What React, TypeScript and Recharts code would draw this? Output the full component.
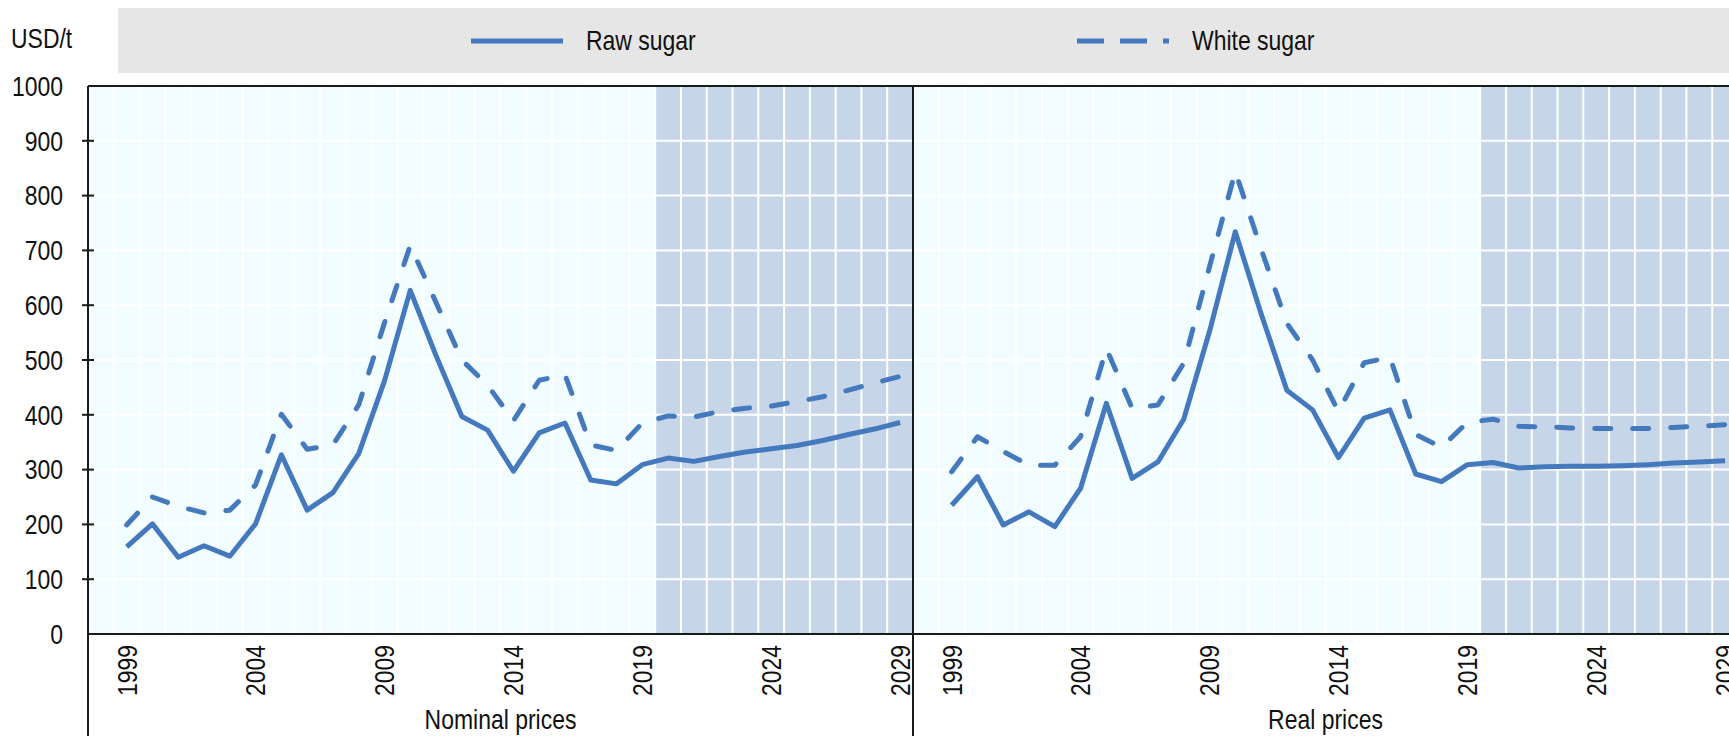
import {
  LineChart,
  Line,
  XAxis,
  YAxis,
  CartesianGrid,
  ReferenceArea,
  ReferenceLine,
  Legend,
  Label,
} from "recharts";

// Years shown in each panel (an empty 1998 slot pads the left of each panel)
const years = [
  1999, 2000, 2001, 2002, 2003, 2004, 2005, 2006, 2007, 2008, 2009, 2010, 2011, 2012, 2013, 2014,
  2015, 2016, 2017, 2018, 2019, 2020, 2021, 2022, 2023, 2024, 2025, 2026, 2027, 2028, 2029,
];
const padYear = 1998;

const nominalRaw = [
  159, 201, 140, 161, 142, 201, 327, 226, 258, 329, 462, 627, 508, 397, 372, 297,
  367, 385, 281, 274, 309, 321, 315, 324, 332, 338, 344, 353, 364, 374, 386,
];
const nominalWhite = [
  199, 250, 233, 221, 226, 272, 401, 337, 345, 418, 568, 709, 605, 500, 454, 389,
  463, 473, 345, 335, 385, 398, 396, 406, 412, 416, 424, 433, 445, 458, 470,
];
const realRaw = [
  235, 287, 199, 223, 196, 266, 421, 284, 314, 392, 552, 734, 585, 445, 409, 322,
  394, 409, 292, 278, 309, 313, 303, 305, 306, 306, 307, 309, 312, 314, 316,
];
const realWhite = [
  296, 360, 333, 308, 308, 360, 521, 412, 418, 494, 670, 844, 703, 567, 500, 406,
  495, 505, 364, 341, 386, 392, 379, 378, 376, 375, 375, 375, 377, 379, 382,
];

const panels = ["Nominal prices", "Real prices"];
const yearLabels = [1999, 2004, 2009, 2014, 2019, 2024, 2029];
const valueTicks = [0, 100, 200, 300, 400, 500, 600, 700, 800, 900, 1000];
const gridValues = [100, 200, 300, 400, 500, 600, 700, 800, 900];
const projection = [2020, 2029];

const BLUE = "#4579BD";
const AXIS = "#1a1a1a";
const TEXT = "#111";
const FONT = "'Liberation Sans', Arial, sans-serif";
const FONT_SIZE = 28;
// the source figure uses a condensed face; squeeze Liberation Sans horizontally
const SQUEEZE = 0.82;

type Row = { key: string; year: number; panel: string; raw: number | null; white: number | null };

function panelRows(tag: string, panel: string, raw: number[], white: number[]): Row[] {
  const rows: Row[] = [{ key: tag + padYear, year: padYear, panel, raw: null, white: null }];
  years.forEach((year, i) => rows.push({ key: tag + year, year, panel, raw: raw[i], white: white[i] }));
  return rows;
}

const data: Row[] = [
  ...panelRows("N", panels[0], nominalRaw, nominalWhite),
  ...panelRows("R", panels[1], realRaw, realWhite),
];

function NarrowText(props: { x: number; y: number; rotate?: number; anchor: "start" | "middle" | "end"; children: any }) {
  const { x, y, rotate = 0, anchor, children } = props;
  return (
    <text
      transform={`translate(${x},${y}) rotate(${rotate}) scale(${SQUEEZE},1)`}
      x={0}
      y={0}
      textAnchor={anchor}
      dominantBaseline="central"
      fill={TEXT}
      fontSize={FONT_SIZE}
      fontFamily={FONT}
    >
      {children}
    </text>
  );
}

function YearTick(props: any) {
  const { x, y, payload } = props;
  const row = data.find((d) => d.key === payload.value);
  if (!row) return null;
  const edge = x - (payload.offset ?? 0);
  return (
    <g>
      {row.year === padYear && (
        <line x1={edge} x2={edge} y1={y} y2={y + 200} stroke={AXIS} strokeWidth={2} />
      )}
      {yearLabels.includes(row.year) && (
        <NarrowText x={x} y={y + 11} rotate={-90} anchor="end">
          {row.year}
        </NarrowText>
      )}
    </g>
  );
}

function PanelTick(props: any) {
  const { x, y, payload, index } = props;
  if (index !== undefined && index !== panels.indexOf(payload.value)) return null;
  return (
    <NarrowText x={x} y={y + 23} anchor="middle">
      {payload.value}
    </NarrowText>
  );
}

function ValueTick(props: any) {
  const { x, y, payload } = props;
  const axisX = x + 25;
  const v = payload.value;
  return (
    <g>
      {v > 0 && v < 1000 && <line x1={axisX - 6} x2={axisX + 6} y1={y} y2={y} stroke={AXIS} strokeWidth={2} />}
      <NarrowText x={x} y={y} anchor="end">
        {v}
      </NarrowText>
    </g>
  );
}

function UnitLabel(props: any) {
  const { viewBox } = props;
  return (
    <NarrowText x={viewBox.x + 11} y={viewBox.y - 48} anchor="start">
      USD/t
    </NarrowText>
  );
}

function LegendBox(props: any) {
  const items = props.payload ?? [];
  const lefts = [351, 957];
  return (
    <div style={{ position: "relative", height: 65, background: "#E6E6E6", fontFamily: FONT, fontSize: FONT_SIZE, color: TEXT }}>
      {items.map((entry: any, i: number) => (
        <div
          key={entry.value}
          style={{ position: "absolute", left: lefts[i], top: 0, height: 65, display: "flex", alignItems: "center", gap: 21 }}
        >
          <svg width={96} height={10}>
            <line
              x1={2}
              x2={94}
              y1={5}
              y2={5}
              stroke={entry.color}
              strokeWidth={5}
              strokeDasharray={entry.payload?.strokeDasharray ? "27 16" : undefined}
            />
          </svg>
          <span style={{ display: "inline-block", transform: `scaleX(${SQUEEZE})`, transformOrigin: "left center", whiteSpace: "nowrap" }}>
            {entry.value}
          </span>
        </div>
      ))}
    </div>
  );
}

export default function App() {
  return (
    <div style={{ position: "absolute", left: 0, top: 0, width: 1729, height: 736, overflow: "hidden", background: "#fff" }}>
      <LineChart width={1738} height={736} data={data} margin={{ top: 86, right: 0, bottom: 0, left: 0 }}>
        <CartesianGrid fill="#F2FDFF" stroke="none" horizontal={false} vertical={false} />
        <ReferenceArea x1={"N" + projection[0]} x2={"N" + projection[1]} fill="#C6D5E8" fillOpacity={1} stroke="none" />
        <ReferenceArea x1={"R" + projection[0]} x2={"R" + projection[1]} fill="#C6D5E8" fillOpacity={1} stroke="none" />
        {data
          .filter((d) => d.year !== padYear)
          .map((d) => (
            <ReferenceLine key={"v" + d.key} x={d.key} position="start" stroke="#fff" strokeWidth={2} />
          ))}
        {gridValues.map((v) => (
          <ReferenceLine key={"h" + v} y={v} stroke="#fff" strokeWidth={2} />
        ))}
        <ReferenceLine x={"R" + padYear} position="start" stroke={AXIS} strokeWidth={2} />
        <ReferenceLine y={1000} stroke={AXIS} strokeWidth={2} />
        <XAxis
          dataKey="key"
          scale="band"
          interval={0}
          height={62}
          tickLine={false}
          tickSize={0}
          tickMargin={0}
          axisLine={{ stroke: AXIS, strokeWidth: 2 }}
          tick={<YearTick />}
        />
        <XAxis
          xAxisId="panel"
          dataKey="panel"
          scale="band"
          allowDuplicatedCategory={false}
          ticks={panels}
          height={40}
          tickLine={false}
          axisLine={false}
          tickSize={0}
          tickMargin={0}
          tick={<PanelTick />}
        />
        <YAxis
          type="number"
          domain={[0, 1000]}
          ticks={valueTicks}
          width={88}
          tickLine={false}
          tickSize={0}
          tickMargin={25}
          axisLine={{ stroke: AXIS, strokeWidth: 2 }}
          tick={<ValueTick />}
          label={<Label content={<UnitLabel />} />}
        />
        <Legend
          layout="horizontal"
          verticalAlign="middle"
          align="center"
          wrapperStyle={{ top: 8, left: 118, width: 1640, height: 65, margin: 0 }}
          content={<LegendBox />}
        />
        <Line
          name="Raw sugar"
          dataKey="raw"
          type="linear"
          stroke={BLUE}
          strokeWidth={5}
          strokeLinejoin="round"
          dot={false}
          activeDot={false}
          isAnimationActive={false}
        />
        <Line
          name="White sugar"
          dataKey="white"
          type="linear"
          stroke={BLUE}
          strokeWidth={5}
          strokeDasharray="16 22"
          strokeLinecap="round"
          strokeLinejoin="round"
          dot={false}
          activeDot={false}
          isAnimationActive={false}
        />
      </LineChart>
    </div>
  );
}
